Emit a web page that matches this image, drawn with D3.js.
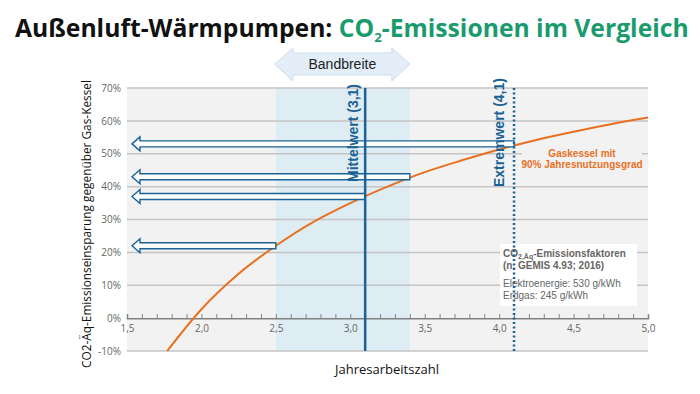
<!DOCTYPE html>
<html>
<head>
<meta charset="utf-8">
<script src="https://cdn.jsdelivr.net/npm/d3@7"></script>
<style>
  body { margin: 0; background: #fff; }
  svg { display: block; }
</style>
</head>
<body>
<div class="chart"></div>
<script>
// values
const jaz = [1.77, 2.0, 2.25, 2.5, 2.75, 3.0, 3.25, 3.5, 3.75, 4.0, 4.25, 4.5, 4.75, 5.0];
const savings = [-10, 2.7, 13.5, 22, 29.2, 35, 40, 44.4, 48, 51.3, 54.2, 56.7, 59, 61];
const arrowJaz = [2.5, 3.1, 3.4, 4.1];
const arrowSavings = [22, 37, 43, 53];
const band = [2.5, 3.4];
const meanJaz = 3.1;
const extremeJaz = 4.1;
const xTicks = [1.5, 2.0, 2.5, 3.0, 3.5, 4.0, 4.5, 5.0];
const yTicks = [-10, 0, 10, 20, 30, 40, 50, 60, 70];

const W = 700, H = 394;
const blue = "#1b6396";
const orange = "#e8701f";
const green = "#1a9b6e";

const svg = d3.select(".chart").append("svg")
    .attr("width", W)
    .attr("height", H);

const x = d3.scaleLinear().domain([1.5, 5.0]).range([127, 648]);
const y = d3.scaleLinear().domain([-10, 70]).range([351, 88]);

// title, one text so the pieces never collide; font size scaled to fit 674px
const title = svg.append("text")
    .attr("x", 15).attr("y", 37)
    .attr("font-family", "Open Sans")
    .attr("font-weight", 700)
    .attr("font-size", 28);
title.append("tspan").attr("fill", "#111").text("Außenluft-Wärmpumpen: ");
title.append("tspan").attr("fill", green).text("CO");
const sub = title.append("tspan").attr("fill", green).attr("font-size", 15).attr("dy", 5).text("2");
title.append("tspan").attr("fill", green).attr("dy", -5).text("-Emissionen im Vergleich");
const tw = title.node().getComputedTextLength();
if (tw > 674) {
    const k = 674 / tw;
    title.attr("font-size", 28 * k);
    sub.attr("font-size", 15 * k);
}

// plot background
svg.append("rect")
    .attr("x", x(1.5)).attr("y", y(70))
    .attr("width", x(5) - x(1.5)).attr("height", y(-10) - y(70))
    .attr("fill", "#f2f2f2");

// band
svg.append("rect")
    .attr("x", x(band[0])).attr("y", y(70))
    .attr("width", x(band[1]) - x(band[0])).attr("height", y(-10) - y(70))
    .attr("fill", "#deedf4");

// gridlines
svg.selectAll(".grid")
    .data(yTicks.filter(d => d !== 0))
    .enter()
    .append("line")
    .attr("class", "grid")
    .attr("x1", x(1.5)).attr("x2", x(5))
    .attr("y1", d => y(d)).attr("y2", d => y(d))
    .attr("stroke", "#c4c4c4")
    .attr("stroke-width", 1.5);

// x axis with minor ticks
const minor = d3.range(15, 51).map(d => d / 10);
const xAxisMinor = svg.append("g")
    .attr("transform", "translate(0," + y(0) + ")")
    .call(d3.axisBottom(x).tickValues(minor).tickSize(-4).tickFormat(""));
xAxisMinor.selectAll("line").attr("stroke", "#808080");
xAxisMinor.select(".domain").attr("stroke", "#808080").attr("stroke-width", 1.5);

const xAxis = svg.append("g")
    .attr("transform", "translate(0," + y(0) + ")")
    .call(d3.axisBottom(x).tickValues(xTicks).tickSize(0).tickPadding(7)
        .tickFormat(d => d.toFixed(1).replace(".", ",")));
xAxis.select(".domain").remove();
xAxis.selectAll("text")
    .attr("font-family", "Open Sans")
    .attr("font-size", 10)
    .attr("fill", "#666");

// y axis labels
const yAxis = svg.append("g")
    .attr("transform", "translate(" + x(1.5) + ",0)")
    .call(d3.axisLeft(y).tickValues(yTicks).tickSize(0).tickPadding(6)
        .tickFormat(d => d + "%"));
yAxis.select(".domain").remove();
yAxis.selectAll("text")
    .attr("font-family", "Open Sans")
    .attr("font-size", 10)
    .attr("fill", "#666");

// axis titles
svg.append("text")
    .attr("transform", "translate(91,224) rotate(-90)")
    .attr("text-anchor", "middle")
    .attr("font-family", "Open Sans")
    .attr("font-size", 12)
    .attr("textLength", 288)
    .attr("lengthAdjust", "spacingAndGlyphs")
    .attr("fill", "#111")
    .text("CO2-Äq-Emissionseinsparung gegenüber Gas-Kessel");

svg.append("text")
    .attr("x", 387).attr("y", 374)
    .attr("text-anchor", "middle")
    .attr("font-family", "Open Sans")
    .attr("font-size", 13)
    .attr("fill", "#111")
    .text("Jahresarbeitszahl");

// gas boiler curve
const line = d3.line()
    .x((d, i) => x(jaz[i]))
    .y(d => y(d))
    .curve(d3.curveMonotoneX);
svg.append("path")
    .datum(savings)
    .attr("d", line)
    .attr("fill", "none")
    .attr("stroke", orange)
    .attr("stroke-width", 2);

// hollow arrows pointing at the y axis
const arrowPath = (x0, x1, yc) => {
    const hx = x0 + 8;
    return "M" + x0 + "," + yc +
        "L" + hx + "," + (yc - 7) + "L" + hx + "," + (yc - 3) +
        "L" + x1 + "," + (yc - 3) + "L" + x1 + "," + (yc + 3) +
        "L" + hx + "," + (yc + 3) + "L" + hx + "," + (yc + 7) + "Z";
};
svg.selectAll(".arrow")
    .data(arrowSavings)
    .enter()
    .append("path")
    .attr("class", "arrow")
    .attr("d", (d, i) => arrowPath(x(1.5) + 5, x(arrowJaz[i]), y(d)))
    .attr("fill", "#fff")
    .attr("stroke", blue)
    .attr("stroke-width", 1.4);

// annotation boxes
svg.append("rect")
    .attr("x", 522).attr("y", 146)
    .attr("width", 120).attr("height", 26)
    .attr("fill", "#f2f2f2");
svg.append("text")
    .attr("x", 582).attr("y", 157)
    .attr("text-anchor", "middle")
    .attr("font-family", "Liberation Sans")
    .attr("font-weight", 700)
    .attr("font-size", 10)
    .attr("fill", orange)
    .text("Gaskessel mit");
svg.append("text")
    .attr("x", 582).attr("y", 168)
    .attr("text-anchor", "middle")
    .attr("font-family", "Liberation Sans")
    .attr("font-weight", 700)
    .attr("font-size", 10)
    .attr("fill", orange)
    .text("90% Jahresnutzungsgrad");

svg.append("rect")
    .attr("x", 500).attr("y", 244)
    .attr("width", 137).attr("height", 62)
    .attr("fill", "#fff");
const info = svg.append("g")
    .attr("font-family", "Liberation Sans")
    .attr("font-size", 10)
    .attr("fill", "#666");
const t1 = info.append("text").attr("x", 503).attr("y", 257).attr("font-weight", 700);
t1.append("tspan").text("CO");
t1.append("tspan").attr("font-size", 7).attr("dy", 2).text("2,Äq");
t1.append("tspan").attr("dy", -2).text("-Emissionsfaktoren");
info.append("text").attr("x", 503).attr("y", 269).attr("font-weight", 700)
    .text("(n. GEMIS 4.93; 2016)");
info.append("text").attr("x", 503).attr("y", 287).text("Elektroenergie: 530 g/kWh");
info.append("text").attr("x", 503).attr("y", 299).text("Erdgas: 245 g/kWh");

// mean and extreme lines
svg.append("line")
    .attr("x1", x(meanJaz)).attr("x2", x(meanJaz))
    .attr("y1", y(70)).attr("y2", y(-10))
    .attr("stroke", blue)
    .attr("stroke-width", 2.5);
svg.append("line")
    .attr("x1", x(extremeJaz)).attr("x2", x(extremeJaz))
    .attr("y1", y(70)).attr("y2", y(-10))
    .attr("stroke", blue)
    .attr("stroke-width", 2.5)
    .attr("stroke-dasharray", "2,2.5");

svg.append("text")
    .attr("transform", "translate(" + (x(meanJaz) - 12) + ",182) rotate(-90)")
    .attr("dy", "0.36em")
    .attr("font-family", "Liberation Sans")
    .attr("font-weight", 700)
    .attr("font-size", 14)
    .attr("fill", blue)
    .text("Mittelwert (3,1)");
svg.append("text")
    .attr("transform", "translate(" + (x(extremeJaz) - 15) + ",187) rotate(-90)")
    .attr("dy", "0.36em")
    .attr("font-family", "Liberation Sans")
    .attr("font-weight", 700)
    .attr("font-size", 14)
    .attr("fill", blue)
    .text("Extremwert (4,1)");

// Bandbreite double arrow
const bx0 = x(band[0]) - 1, bx1 = x(band[1]);
svg.append("path")
    .attr("d", "M" + bx0 + ",64 L" + (bx0 + 18) + ",48 L" + (bx0 + 18) + ",53 L" + (bx1 - 18) + ",53 L" +
        (bx1 - 18) + ",48 L" + bx1 + ",64 L" + (bx1 - 18) + ",81 L" + (bx1 - 18) + ",75 L" +
        (bx0 + 18) + ",75 L" + (bx0 + 18) + ",81 Z")
    .attr("fill", "#e3eef8")
    .attr("stroke", "#cbdded")
    .attr("stroke-width", 1);
svg.append("text")
    .attr("x", (bx0 + bx1) / 2).attr("y", 69)
    .attr("text-anchor", "middle")
    .attr("font-family", "Liberation Sans")
    .attr("font-size", 14)
    .attr("fill", "#222")
    .text("Bandbreite");
</script>
</body>
</html>
